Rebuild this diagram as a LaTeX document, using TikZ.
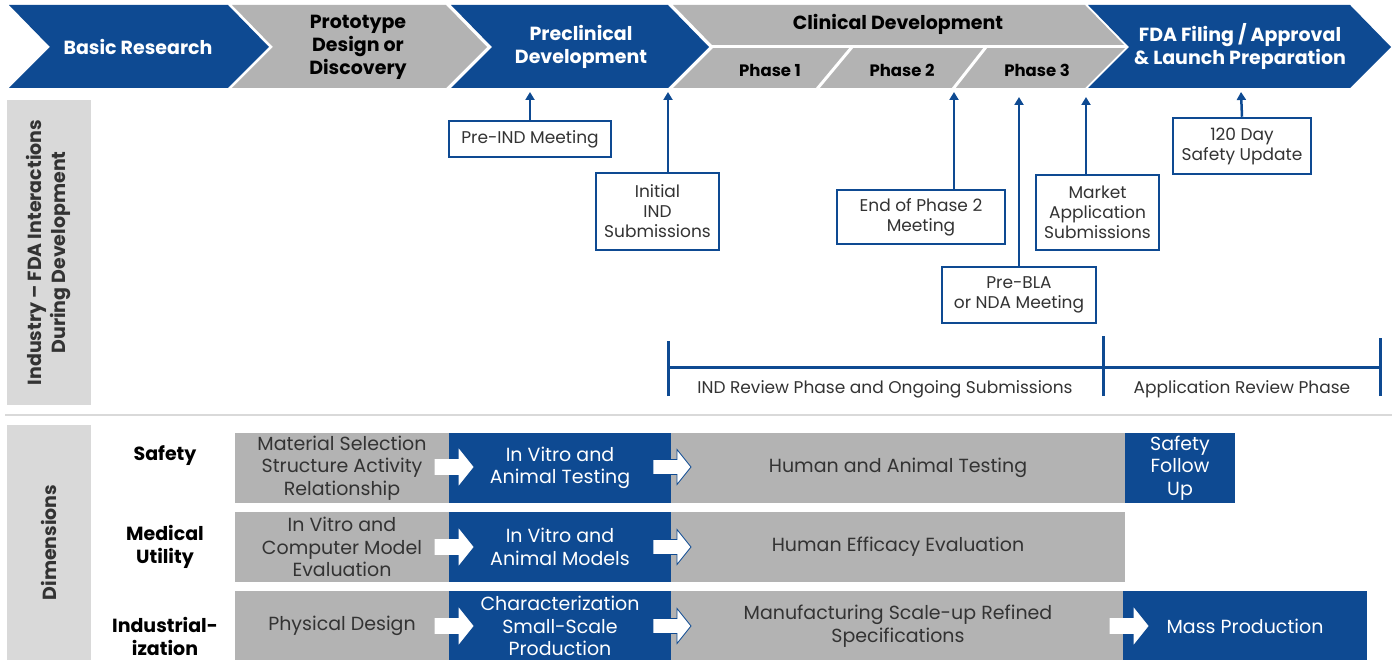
\documentclass[tikz,border=0pt]{standalone}
\usepackage{fontspec}
\setmainfont{Poppins}
\usetikzlibrary{positioning,arrows.meta}

\definecolor{fdablue}{RGB}{14,74,146}
\definecolor{stepgray}{RGB}{179,179,179}
\definecolor{panelgray}{RGB}{217,217,217}
\definecolor{inkgray}{RGB}{51,51,51}

\begin{document}
\begin{tikzpicture}[
x=1pt, y=-1pt,
head/.style={font=\bfseries\fontsize{19}{23}\selectfont, align=center},
phase/.style={font=\bfseries\fontsize{16.5}{20}\selectfont},
meet/.style={draw=fdablue, line width=2.5pt, fill=white, text=inkgray,
             font=\fontsize{17}{20}\selectfont, align=center, inner sep=1pt},
up/.style={-{Triangle[length=8pt,width=9pt]}, fdablue, line width=2.5pt},
span/.style={fdablue, line width=3pt},
cell/.style={font=\fontsize{19}{22.5}\selectfont, align=center, inner sep=0pt,
             minimum height=70pt},
greycell/.style={cell, fill=stepgray, text=inkgray},
bluecell/.style={cell, fill=fdablue, text=white},
side/.style={fill=panelgray, text=inkgray, font=\bfseries\fontsize{19}{24}\selectfont,
             align=center, rotate=90, inner sep=0pt},
rowlabel/.style={font=\bfseries\fontsize{19}{23}\selectfont, align=center}
]
\useasboundingbox (0,0) rectangle (1398,660);

% stage chevrons
\foreach \xa/\xb/\col in {9/228/fdablue, 232/446/stepgray, 451/668/fdablue,
                          673/1085/stepgray, 1088/1350/fdablue} {
  \fill[\col] (\xa,5) -- (\xb,5) -- (\xb+41,47) -- (\xb,88) -- (\xa,88)
              -- (\xa+41,47) -- cycle;
}
% clinical split into phases
\draw[white, line width=3pt] (712,47) -- (1127,47);
\draw[white, line width=3pt] (817,89) -- (852,47);
\draw[white, line width=3pt] (953,89) -- (986,47);

\node[head, text=white] (basic) at (138,47) {Basic Research};
\node[head] (proto) at (358,47) {Prototype\\Design or\\Discovery};
\node[head, text=white] (precl) at (581,47) {Preclinical\\Development};
\node[head] (clin) at (898,24) {Clinical Development};
\node[phase] (ph1) at (770,70) {Phase 1};
\node[phase] (ph2) at (902,70) {Phase 2};
\node[phase] (ph3) at (1037,70) {Phase 3};
\node[head, text=white] (fda) at (1240,47) {FDA Filing / Approval\\\& Launch Preparation};

% side panels
\node[side, minimum width=305pt, minimum height=84pt] (interact) at (49,252.5)
  {Industry -- FDA Interactions\\During Development};
\node[side, minimum width=235pt, minimum height=84pt] (dims) at (49,542.5) {Dimensions};
\draw[panelgray, line width=2pt] (5,415) -- (1392,415);

% meetings and submissions
\node[meet, minimum width=162pt, minimum height=36pt] (preind) at (530,139) {Pre-IND Meeting};
\node[meet, minimum width=123pt, minimum height=77pt] (ind) at (657.5,211.5) {Initial\\IND\\Submissions};
\node[meet, minimum width=168pt, minimum height=54pt] (eop2) at (921,217) {End of Phase 2\\Meeting};
\node[meet, minimum width=154pt, minimum height=56pt] (prebla) at (1019,295) {Pre-BLA\\or NDA Meeting};
\node[meet, minimum width=123pt, minimum height=75pt] (market) at (1097.5,212.5) {Market\\Application\\Submissions};
\node[meet, minimum width=138pt, minimum height=56pt] (update) at (1242,146) {120 Day\\Safety Update};

\coordinate (tpreind) at (530,92);
\coordinate (tind) at (668,92);
\coordinate (teop2) at (954,92);
\coordinate (tprebla) at (1019,97);
\coordinate (tmarket) at (1086,97);
\coordinate (tupdate) at (1241,92);
\draw[up] (preind.north) -- (tpreind);
\draw[up] (ind.north -| tind) -- (tind);
\draw[up] (eop2.north -| teop2) -- (teop2);
\draw[up] (prebla.north) -- (tprebla);
\draw[up] (market.north -| tmarket) -- (tmarket);
\draw[up] (update.north) -- (tupdate);

% review phases
\coordinate (rstart) at (668,368);
\coordinate (rmid) at (1103,368);
\coordinate (rend) at (1380,368);
\draw[span] (rstart) -- (rend);
\draw[span] ([yshift=-28pt]rstart) -- ([yshift=27pt]rstart);
\draw[span] ([yshift=-28pt]rmid) -- ([yshift=32pt]rmid);
\draw[span] ([yshift=-28pt]rend) -- ([yshift=30pt]rend);
\node[text=inkgray, font=\fontsize{17}{20}\selectfont] (indrev) at (885,389)
  {IND Review Phase and Ongoing Submissions};
\node[text=inkgray, font=\fontsize{17}{20}\selectfont] (apprev) at (1242,389)
  {Application Review Phase};

% dimensions
\node[rowlabel] (safety) at (165,456) {Safety};
\node[rowlabel] (medical) at (165,547) {Medical\\Utility};
\node[rowlabel] (indus) at (165,636) {Industrial-\\ization};

\node[greycell, minimum width=214pt] (s1) at (342,468) {Material Selection\\Structure Activity\\Relationship};
\node[bluecell, minimum width=222pt] (s2) at (560,468) {In Vitro and\\Animal Testing};
\node[greycell, minimum width=454pt] (s3) at (898,468) {Human and Animal Testing};
\node[bluecell, minimum width=110pt] (s4) at (1180,468) {Safety\\Follow\\Up};

\node[greycell, minimum width=214pt] (m1) at (342,547) {In Vitro and\\Computer Model\\Evaluation};
\node[bluecell, minimum width=222pt] (m2) at (560,547) {In Vitro and\\Animal Models};
\node[greycell, minimum width=454pt] (m3) at (898,547) {Human Efficacy Evaluation};

\node[greycell, minimum width=214pt] (p1) at (342,626) {Physical Design};
\node[bluecell, minimum width=222pt] (p2) at (560,626) {Characterization\\Small-Scale\\Production};
\node[greycell, minimum width=454pt] (p3) at (898,626) {Manufacturing Scale-up Refined\\Specifications};
\node[bluecell, minimum width=244pt] (p4) at (1245,626) {Mass Production};

% block arrows between cells
\foreach \x/\y/\edge in {435/467/white, 435/547/white, 435/626/white, 1110/626/white,
                         653/467/fdablue, 653/547/fdablue, 653/626/fdablue} {
  \filldraw[fill=white, draw=\edge, line width=0.8pt]
    (\x,\y-7.5) -- ++(24,0) -- ++(0,-10) -- ++(14,17.5) -- ++(-14,17.5)
    -- ++(0,-10) -- ++(-24,0) -- cycle;
}

\end{tikzpicture}
\end{document}
